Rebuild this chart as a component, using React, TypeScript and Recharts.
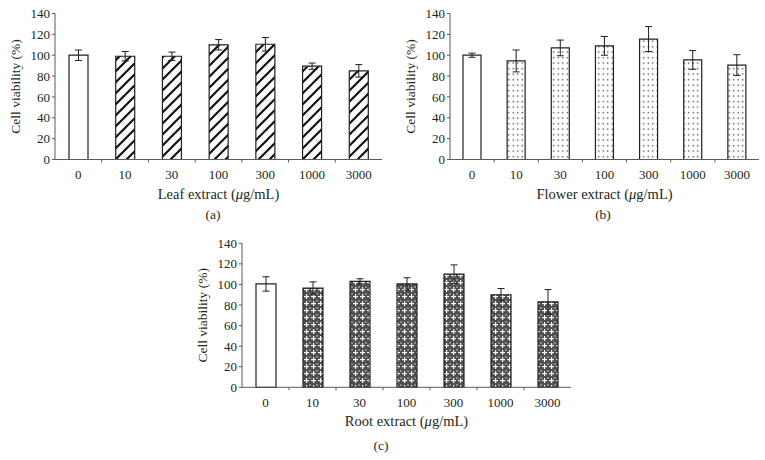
import { Bar, BarChart, Cell, ErrorBar, XAxis, YAxis } from "recharts";

const doses = ["0", "10", "30", "100", "300", "1000", "3000"];
const leafMean = [100, 99, 99, 110, 110.5, 89.5, 85];
const leafErr = [5, 4.5, 4, 5, 6.5, 3, 6];
const flowerMean = [100, 94.5, 107, 109, 115.5, 95.5, 90.5];
const flowerErr = [2, 10.5, 7.5, 9, 12, 9, 10];
const rootMean = [100.5, 96.5, 103, 100.5, 110, 90, 83];
const rootErr = [7, 6, 2.5, 6, 9, 6, 12];
const yTicks = [0, 20, 40, 60, 80, 100, 120, 140];

const INK = "#231f20";
const AXIS = "#5a5a5a";
const FONT = "'Liberation Serif', 'Times New Roman', serif";

// x tick: label at the bar centre, small mark at the right edge of each band
function DoseTick({ x, y, payload, index, band }: any) {
  return (
    <g>
      {index < doses.length - 1 && (
        <line x1={x + band / 2} x2={x + band / 2} y1={y} y2={y + 3} stroke={AXIS} />
      )}
      <text x={x} y={y + 15} textAnchor="middle" dominantBaseline="central" fontSize={13} fill={INK}>
        {payload.value}
      </text>
    </g>
  );
}

function XTitle({ viewBox, name, caption, captionX, captionDy }: any) {
  const cx = viewBox.x + viewBox.width / 2;
  return (
    <g>
      <text x={cx} y={viewBox.y + 34} textAnchor="middle" dominantBaseline="central" fontSize={14.5} fill={INK}>
        {name} extract (<tspan fontStyle="italic">μ</tspan>g/mL)
      </text>
      <text x={captionX} y={viewBox.y + captionDy} textAnchor="middle" dominantBaseline="central" fontSize={13.5} fill={INK}>
        {caption}
      </text>
    </g>
  );
}

function YTitle({ viewBox, labelX }: any) {
  const cy = viewBox.y + viewBox.height / 2;
  return (
    <text
      x={labelX}
      y={cy}
      transform={`rotate(-90, ${labelX}, ${cy})`}
      textAnchor="middle"
      dominantBaseline="central"
      fontSize={13.5}
      fill={INK}
    >
      Cell viability (%)
    </text>
  );
}

interface PanelProps {
  name: string;
  caption: string;
  means: number[];
  errs: number[];
  pattern: string;
  left: number;
  top: number;
  width: number;
  height: number;
  axisX: number;
  plotRight: number;
  plotTop: number;
  plotBottom: number;
  barSize: number;
  labelX: number;
  captionX: number;
  captionDy: number;
}

function Panel(p: PanelProps) {
  const data = doses.map((d, i) => ({ dose: d, value: p.means[i], err: p.errs[i] }));
  const band = (p.plotRight - p.axisX) / doses.length;
  const xAxisHeight = 40;
  return (
    <div style={{ position: "absolute", left: p.left, top: p.top }}>
      <BarChart
        width={p.width}
        height={p.height}
        data={data}
        margin={{
          top: p.plotTop,
          right: p.width - p.plotRight,
          bottom: p.height - p.plotBottom - xAxisHeight,
          left: 0,
        }}
        style={{ fontFamily: FONT }}
      >
        <defs>
          <pattern id="hatch" patternUnits="userSpaceOnUse" width="11" height="11">
            <rect width="11" height="11" fill="#fff" />
            <path d="M0,11 L11,0 M-2,2 L2,-2 M9,13 L13,9" stroke="#111" strokeWidth="2.2" />
          </pattern>
          <pattern id="dots" patternUnits="userSpaceOnUse" width="4.5" height="5.5">
            <rect width="4.5" height="5.5" fill="#fff" />
            <rect x="1.6" y="2" width="1.3" height="1.3" fill="#333" />
          </pattern>
          <pattern id="cross" patternUnits="userSpaceOnUse" width="7" height="7">
            <rect width="7" height="7" fill="#4e4e4e" />
            <rect x="0" y="0" width="2" height="2" fill="#8a8a8a" />
            <rect x="4" y="1" width="1.2" height="5" fill="#f4f4f4" />
            <rect x="2" y="3" width="5" height="1.2" fill="#f4f4f4" />
          </pattern>
        </defs>
        <XAxis
          dataKey="dose"
          height={xAxisHeight}
          stroke={AXIS}
          tickLine={false}
          tickSize={0}
          tickMargin={0}
          tick={<DoseTick band={band} />}
          interval={0}
          label={<XTitle name={p.name} caption={p.caption} captionX={p.captionX} captionDy={p.captionDy} />}
        />
        <YAxis
          width={p.axisX}
          domain={[0, 140]}
          ticks={yTicks}
          interval={0}
          stroke={AXIS}
          tickSize={3}
          tickMargin={2}
          tick={{ fill: INK, fontSize: 13 }}
          label={<YTitle labelX={p.labelX} />}
        />
        <Bar dataKey="value" barSize={p.barSize} stroke={INK} strokeWidth={1.2} isAnimationActive={false}>
          {data.map((d, i) => (
            <Cell key={d.dose} fill={i === 0 ? "#fff" : `url(#${p.pattern})`} />
          ))}
          <ErrorBar dataKey="err" width={3.5} stroke={INK} strokeWidth={1} />
        </Bar>
      </BarChart>
    </div>
  );
}

export default function App() {
  return (
    <div style={{ position: "absolute", left: 0, top: 0, width: 765, height: 460, background: "#fff", fontFamily: FONT }}>
      <Panel
        name="Leaf"
        caption="(a)"
        means={leafMean}
        errs={leafErr}
        pattern="hatch"
        left={0}
        top={0}
        width={390}
        height={225}
        axisX={55}
        plotRight={382}
        plotTop={13.5}
        plotBottom={159.5}
        barSize={19}
        labelX={15}
        captionX={213}
        captionDy={55}
      />
      <Panel
        name="Flower"
        caption="(b)"
        means={flowerMean}
        errs={flowerErr}
        pattern="dots"
        left={385}
        top={0}
        width={380}
        height={225}
        axisX={65}
        plotRight={374}
        plotTop={13.5}
        plotBottom={159.5}
        barSize={18}
        labelX={25}
        captionX={218}
        captionDy={55}
      />
      <Panel
        name="Root"
        caption="(c)"
        means={rootMean}
        errs={rootErr}
        pattern="cross"
        left={190}
        top={230}
        width={390}
        height={230}
        axisX={52}
        plotRight={381}
        plotTop={13.3}
        plotBottom={157.3}
        barSize={20}
        labelX={13}
        captionX={191}
        captionDy={58}
      />
    </div>
  );
}
